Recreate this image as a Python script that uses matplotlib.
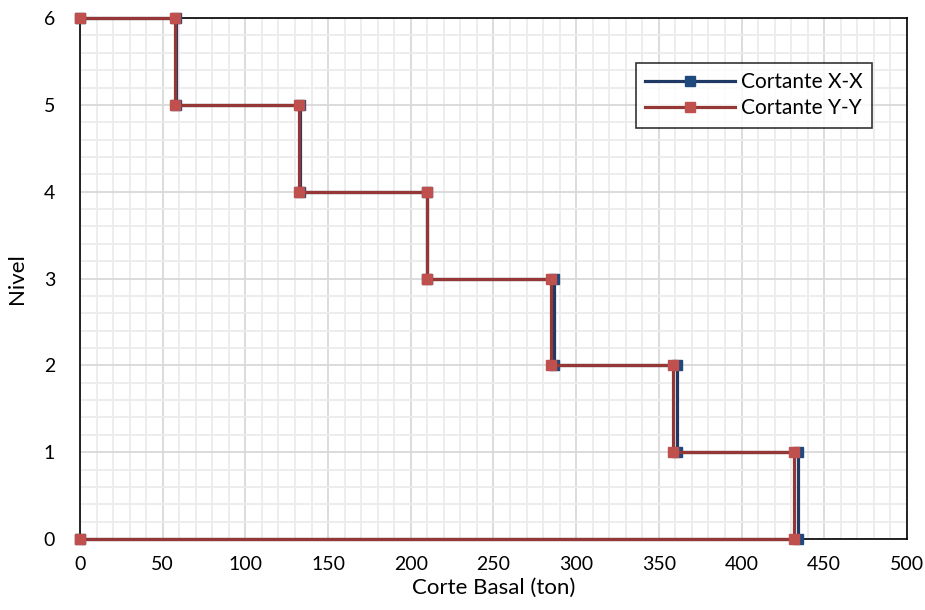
import matplotlib

matplotlib.use("Agg")
import matplotlib.pyplot as plt
from matplotlib.ticker import MultipleLocator

plt.rcParams["font.family"] = ["Lato", "DejaVu Sans"]

# Storey shear per level (top to bottom), ton
levels = [6, 5, 4, 3, 2, 1]
shear_xx = [57.8, 132.8, 210.0, 286.5, 361.0, 434.0]
shear_yy = [57.5, 132.5, 209.5, 284.5, 358.5, 431.5]
x_ticks = [0, 50, 100, 150, 200, 250, 300, 350, 400, 450, 500]
y_ticks = [0, 1, 2, 3, 4, 5, 6]


def step_path(levels, shear):
    xs, ys = [0], [levels[0]]
    for lvl, v in zip(levels, shear):
        xs += [v, v]
        ys += [lvl, lvl - 1]
    xs.append(0)
    ys.append(0)
    return xs, ys


fig = plt.figure(figsize=(9.25, 6.1), dpi=100)
ax = fig.add_axes([0.0865, 0.1164, 0.894, 0.854])

xs, ys = step_path(levels, shear_xx)
ax.plot(xs, ys, color="#1F3864", lw=2.3, marker="s", ms=7,
        mfc="#1F497D", mec="#1F497D", label="Cortante X-X", zorder=3,
        clip_on=False)
xs, ys = step_path(levels, shear_yy)
ax.plot(xs, ys, color="#953735", lw=2.3, marker="s", ms=7.5,
        mfc="#C0504D", mec="#C0504D", label="Cortante Y-Y", zorder=4,
        clip_on=False)

ax.set_xlim(0, 500)
ax.set_ylim(0, 6)
ax.set_xticks(x_ticks)
ax.set_yticks(y_ticks)
ax.xaxis.set_minor_locator(MultipleLocator(10))
ax.yaxis.set_minor_locator(MultipleLocator(0.2))
ax.grid(which="major", color="#D9D9D9", lw=1.3)
ax.grid(which="minor", color="#ECECEC", lw=1.3)
ax.set_axisbelow(True)
ax.tick_params(which="both", length=0, labelsize=14)
ax.tick_params(axis="x", pad=12)
ax.tick_params(axis="y", pad=18)
for sp in ax.spines.values():
    sp.set_color("black")
    sp.set_linewidth(1.2)

ax.set_xlabel("Corte Basal (ton)", fontsize=16, labelpad=4)
ax.set_ylabel("Nivel", fontsize=16, labelpad=12)

leg = ax.legend(loc="upper right", bbox_to_anchor=(0.958, 0.914), fontsize=15,
                frameon=True, fancybox=False, edgecolor="black",
                handlelength=4.3, handletextpad=0.3, borderpad=0.45,
                labelspacing=0.3, borderaxespad=0)
leg.get_frame().set_linewidth(1.2)

plt.savefig("out.png", dpi=100)
plt.close()
